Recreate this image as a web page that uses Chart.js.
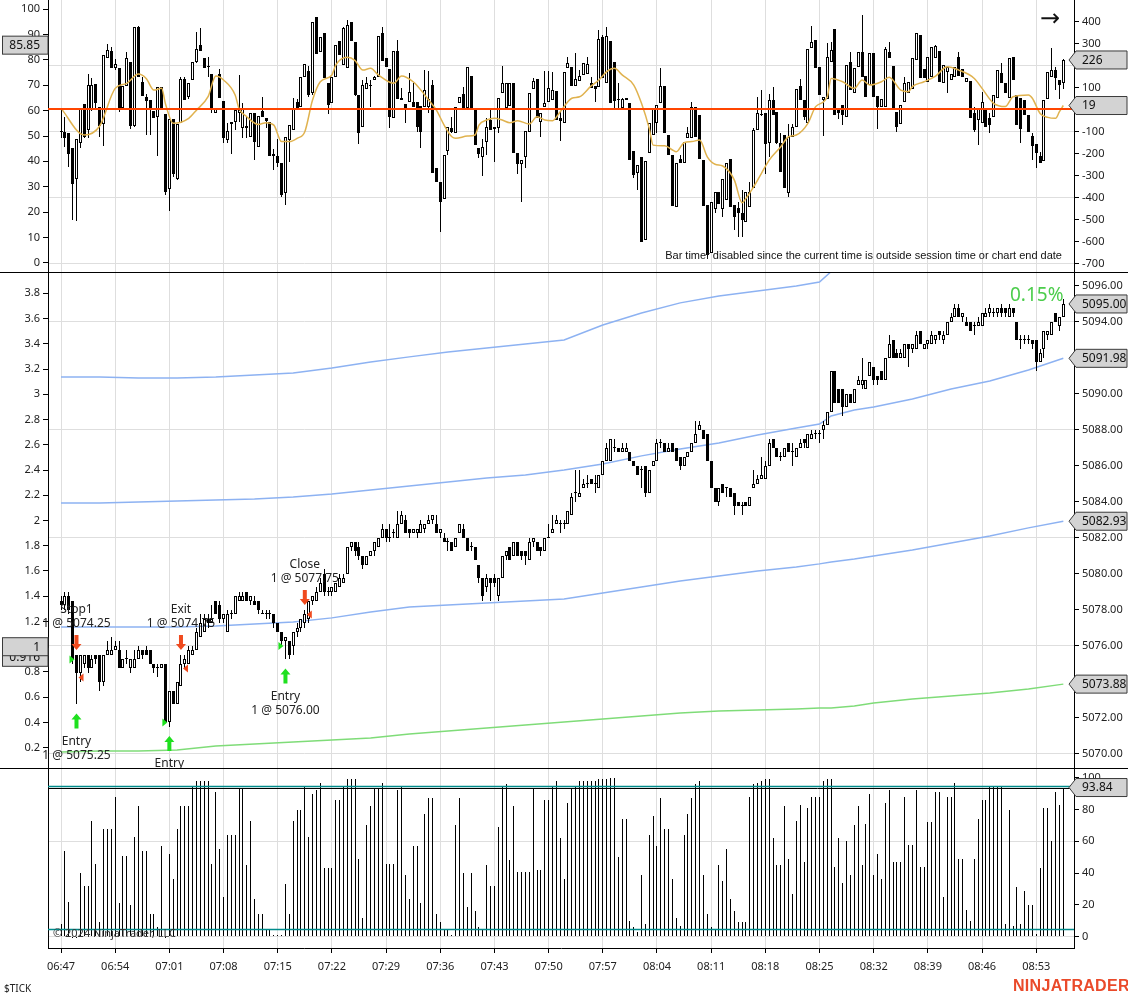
<!DOCTYPE html>
<html>
<head>
<meta charset="utf-8">
<title>$TICK / ES 30s</title>
<script src="https://cdn.jsdelivr.net/npm/chart.js@4.4.1/dist/chart.umd.min.js"></script>
<style>
  html, body { margin: 0; padding: 0; background: #fff; }
  body { width: 1128px; height: 998px; position: relative; overflow: hidden; font-family: "Noto Sans", sans-serif; color: #222; }
  .pane { position: absolute; left: 0; width: 1128px; }
  .sep { position: absolute; left: 0; width: 1128px; height: 1px; background: #000; }
  .txt { position: absolute; white-space: nowrap; }
</style>
</head>
<body>
<div class="pane" style="top:0;height:272px"><canvas id="tickChart"></canvas></div>
<div class="pane" style="top:273px;height:495px"><canvas id="priceChart"></canvas></div>
<div class="pane" style="top:769px;height:229px"><canvas id="volChart"></canvas></div>
<div class="sep" style="top:272px"></div>
<div class="sep" style="top:768px"></div>

<div class="txt" style="right:66px;top:249px;font:11px 'Liberation Sans',Arial,sans-serif;color:#111">Bar timer disabled since the current time is outside session time or chart end date</div>
<div class="txt" style="left:1040px;top:4px;font:24px 'DejaVu Sans',sans-serif;color:#111">&rarr;</div>
<div class="txt" style="left:1010px;top:281px;font:19px 'Noto Sans',sans-serif;color:#4ccd4c">0.15%</div>
<div class="txt" style="left:53px;top:925px;font:11px 'Noto Sans',sans-serif;color:#333">&copy; 2024 NinjaTrader, LLC</div>
<div class="txt" style="left:4px;top:981px;font:10px 'Noto Sans',sans-serif;color:#222">$TICK</div>
<div class="txt" style="left:1013px;top:977px;font:bold 16px 'Liberation Sans',Arial,sans-serif;color:#ea4a2a;letter-spacing:0.3px">NINJATRADER</div>

<script>
// ---- data (30 second bars, 06:47:00 .. 08:56:30) ----
const timeLabels = ['06:47','06:54','07:01','07:08','07:15','07:22','07:29','07:36','07:43','07:50',
  '07:57','08:04','08:11','08:18','08:25','08:32','08:39','08:46','08:53'];

// $TICK candles [open, high, low, close]
const tickBars = [
  [-95,0,-130,-100],[-100,-32,-168,-130],[-108,-105,-259,-203],[-173,-173,-501,-339],[-317,-135,-504,-135],
  [-150,5,-176,5],[26,26,-130,-126],[-92,162,-130,111],[-2,142,-5,112],[117,117,6,29],
  [11,11,-126,-74],[-65,248,-164,248],[233,297,233,271],[267,286,191,191],[191,229,180,206],
  [188,188,-9,-2],[6,108,6,108],[108,264,108,233],[218,218,-89,-74],[-74,374,-80,374],
  [374,380,147,147],[127,150,64,64],[59,70,-115,41],[44,44,-115,6],[-6,-6,-39,-39],
  [-32,102,-211,102],[102,102,3,3],[-20,-20,-388,-373],[-362,-42,-459,-42],[-42,-42,-308,-292],
  [-314,-65,-320,-65],[-62,150,-62,139],[139,150,44,44],[56,120,47,120],[135,215,135,215],
  [215,355,211,274],[294,370,268,268],[236,236,188,188],[198,241,147,195],[162,162,-17,3],
  [-17,3,-17,3],[162,183,52,52],[39,39,-153,-130],[-138,-62,-153,-97],[-65,-58,-201,-58],
  [-58,-2,-92,-2],[-17,158,-55,-2],[-85,29,-130,2],[-74,-29,-130,-85],[-123,-14,-123,-17],
  [-17,-17,-229,-145],[-168,-29,-168,-29],[-5,59,-32,-32],[-36,-36,-85,-50],[-58,-58,-211,-211],
  [-201,-180,-274,-209],[-211,-135,-259,-241],[-244,-244,-398,-388],[-380,-126,-433,-126],[-138,-70,-239,-70],
  [-92,52,-92,2],[33,48,6,6],[11,147,11,147],[147,206,147,206],[177,198,59,67],
  [77,397,67,397],[420,420,251,251],[261,329,261,329],[347,347,142,145],[120,120,-20,21],
  [29,150,29,150],[147,294,147,294],[314,314,248,248],[203,377,203,370],[188,408,188,385],
  [397,397,314,314],[309,309,64,67],[67,67,-158,-105],[-80,135,-80,112],[92,147,92,120],
  [108,135,11,112],[135,155,135,150],[147,335,147,335],[347,374,223,223],[233,233,192,192],
  [183,183,-82,-35],[-39,267,-39,267],[267,317,47,47],[52,97,44,44],[26,26,-62,-2],
  [36,168,36,82],[36,120,14,14],[36,36,-103,-80],[17,17,-176,-100],[14,180,14,89],
  [11,177,-17,47],[112,135,-289,-289],[-267,-267,-327,-327],[-327,-327,-554,-418],[-406,-206,-406,-206],
  [-186,-80,-206,-80],[-85,-35,-108,-100],[-108,11,-108,11],[32,56,32,56],[70,105,-2,-2],
  [6,192,6,192],[153,153,2,2],[2,2,-161,-161],[-176,-176,-221,-201],[-214,-135,-301,-168],
  [-145,-39,-206,-77],[-47,6,-92,-92],[-77,-77,-236,-89],[-85,52,-105,52],[77,198,77,123],
  [6,120,6,120],[17,120,17,120],[120,120,-198,-198],[-198,-198,-292,-247],[-247,-229,-418,-229],
  [-217,-95,-267,-95],[-103,77,-103,77],[92,142,92,130],[139,139,-39,-39],[-55,-17,-123,-17],
  [11,177,11,29],[36,177,36,97],[44,173,44,89],[86,86,-47,-47],[-39,-9,-141,-50],
  [-62,173,-62,173],[191,238,191,214],[195,195,108,108],[108,259,108,138],[132,180,132,153],
  [158,211,158,211],[162,241,162,206],[123,147,97,97],[108,108,36,92],[102,362,102,320],
  [329,339,142,142],[120,374,120,335],[312,312,32,32],[218,218,6,41],[50,123,6,44],
  [6,52,6,47],[44,52,44,52],[29,29,-229,-229],[-186,-186,-309,-297],[-289,-251,-365,-251],
  [-214,-214,-600,-600],[-592,-232,-592,-232],[-198,-62,-198,-62],[-115,6,-115,6],[-59,21,-105,21],
  [29,188,29,108],[108,108,-108,-108],[-115,-115,-206,-206],[-206,-206,-438,-438],[-441,-244,-441,-244],
  [-226,-206,-244,-244],[-241,-145,-241,-145],[-130,-80,-130,-108],[-130,36,-130,14],[11,11,-123,-123],
  [-24,-24,-226,-226],[-229,-229,-438,-438],[-433,-433,-670,-660],[-653,-418,-653,-418],[-453,-373,-471,-373],
  [-373,-373,-430,-430],[-453,-317,-486,-317],[-411,-244,-411,-244],[-226,-226,-441,-441],[-433,-433,-547,-486],
  [-448,-418,-577,-471],[-471,-365,-577,-501],[-509,-373,-509,-373],[-441,-327,-441,-373],[-358,-85,-358,-92],
  [-92,59,-92,-17],[-21,89,-30,-24],[-17,-17,-292,-156],[-153,71,-214,44],[44,102,-24,-24],
  [-9,-9,-158,-153],[-153,-105,-282,-282],[-115,-115,-358,-358],[-380,-65,-395,-123],[-123,-65,-123,-77],
  [-77,92,-77,92],[108,138,44,44],[44,44,-47,-35],[-62,274,-62,274],[279,380,279,309],
  [317,317,188,188],[195,195,67,67],[44,59,-120,59],[47,305,47,241],[218,309,218,271],
  [365,365,-24,-24],[2,2,-44,-17],[21,21,-70,-24],[-32,203,-32,203],[218,264,89,89],
  [77,188,77,188],[195,264,195,264],[264,430,150,150],[153,153,56,56],[112,256,112,256],
  [259,259,59,59],[62,62,-89,11],[11,47,11,47],[14,286,14,274],[264,309,233,233],
  [198,198,2,2],[-9,-9,-100,-80],[-65,21,-65,21],[33,147,33,120],[77,127,77,127],
  [92,233,92,233],[226,347,226,347],[339,339,142,142],[183,183,142,142],[127,238,127,238],
  [150,286,150,286],[233,294,233,289],[267,267,127,127],[123,203,123,203],[173,195,77,195],
  [135,162,135,162],[150,195,150,195],[241,264,153,153],[183,183,147,147],[127,142,127,142],
  [130,130,-39,-39],[-17,14,-100,-92],[-47,6,-161,6],[-62,82,-62,36],[-2,-2,-77,-77],
  [-39,-17,-108,-70],[-32,67,-32,67],[52,180,52,180],[168,214,120,120],[120,120,74,74],
  [52,233,52,233],[241,241,135,135],[67,67,-70,-70],[52,52,-153,-89],[44,44,-24,-24],
  [-24,-24,-100,-100],[-120,-105,-229,-165],[-156,-156,-267,-198],[-211,-191,-244,-244],[-232,44,-232,44],
  [47,173,47,173],[147,279,147,180],[180,195,89,142],[135,135,47,112],[120,229,92,226]
];

// moving average of $TICK, read at selected bars
const smaBar = [0,6,10,14,17,20,22,24,26,27,29,33,35,38,40,42,45,46,48,51,53,55,57,59,61,63,65,67,70,71,
  74,76,78,80,82,86,88,91,93,95,97,99,101,102,105,107,108,110,112,114,116,118,121,123,125,127,129,132,134,137,
  139,141,143,145,148,150,152,153,156,158,159,161,163,165,167,169,171,174,176,177,179,181,183,186,188,190,193,195,198,199,
  202,205,207,209,212,214,217,219,220,223,226,229,232,236,238,241,244,246,250,251,253,255,257,258,259];
const smaVal = [6,-115,-74,97,120,162,142,89,97,26,-62,-39,-2,59,153,135,67,6,-32,-67,-59,-70,-145,-145,-130,-100,44,127,158,203,
  238,223,180,188,158,120,153,127,89,44,-2,-70,-123,-130,-120,-115,-70,-47,-39,-47,-59,-50,-65,-32,-47,-50,-9,52,59,108,
  135,173,188,158,112,29,-85,-161,-164,-183,-191,-150,-145,-138,-214,-248,-256,-320,-423,-403,-350,-289,-229,-168,-123,-115,-62,14,59,142,
  127,97,135,112,127,147,89,82,105,127,153,195,180,142,97,29,14,59,67,52,-17,-35,-39,-9,19];
const tickLevel = 5;
const oscLabels = [85.85];

// ES price candles [open, high, low, close]
const priceBars = [
  [5078.5,5078.75,5078,5078.25],[5078.25,5079,5078,5078.75],[5078.75,5079,5077.75,5078],[5078.5,5078.5,5075,5075.25],[5075.5,5075.5,5072.75,5074.5],
  [5074.5,5075.5,5074,5075.5],[5075,5075.5,5074.75,5075.5],[5075.5,5075.5,5074.5,5074.75],[5074.75,5075.5,5074.75,5075.25],[5075.5,5075.5,5075,5075.25],
  [5075.5,5075.5,5073.5,5074],[5074,5075.5,5073.75,5075.5],[5075.5,5076.25,5075.5,5075.75],[5075.5,5076.5,5075.5,5075.75],[5075.75,5076.25,5075.75,5076],
  [5075.75,5076.25,5074.75,5074.75],[5074.75,5075.25,5074.75,5075.25],[5075.25,5075.75,5075,5075.25],[5074.75,5075.25,5074.5,5075.25],[5074.75,5075.75,5074.75,5075.25],
  [5075.25,5076,5075.25,5075.75],[5075.75,5075.75,5075.25,5075.5],[5075.75,5076,5075.5,5075.5],[5075.75,5075.75,5075,5075],[5075,5075,5074.5,5074.75],
  [5074.75,5075,5074.25,5074.75],[5074.75,5075,5074.75,5075],[5075,5075,5071.75,5071.75],[5071.75,5073.5,5071.5,5073.5],[5073.5,5073.5,5072.75,5072.75],
  [5072.75,5074,5072.75,5074],[5073.75,5075.5,5073.75,5075],[5075,5075.5,5074.75,5075.25],[5075,5076,5075,5075.75],[5075.5,5076,5075.5,5075.75],
  [5075.75,5077,5075.75,5076.75],[5076.5,5077.75,5076.5,5077.25],[5076.75,5077.75,5076.75,5077.5],[5077.5,5077.75,5077,5077.25],[5077.25,5078.25,5077.25,5077.5],
  [5078.5,5078.5,5077.75,5077.75],[5078.25,5078.5,5077.25,5077.5],[5077.5,5077.75,5077.25,5077.75],[5076.75,5078,5076.75,5077.75],[5077.75,5078,5077.5,5077.75],
  [5077.75,5078.75,5077.75,5078.75],[5078.5,5079,5078.5,5078.75],[5078.5,5079,5078.5,5078.75],[5079,5079,5078.5,5078.5],[5078.5,5078.75,5078.25,5078.75],
  [5078.5,5078.75,5078.25,5078.25],[5078.5,5078.5,5077.75,5078],[5077.75,5078,5077.75,5077.75],[5077.75,5078,5077.5,5077.75],[5077.75,5078,5077.5,5077.75],
  [5077.75,5077.75,5077,5077.25],[5077.25,5077.25,5076.75,5076.75],[5076.75,5076.75,5076,5076.25],[5076.25,5076.5,5075.25,5076.5],[5076.25,5076.25,5075.25,5075.5],
  [5076,5076.75,5075.5,5076.75],[5076.75,5077.25,5076.5,5077],[5077,5077.5,5076.75,5077.5],[5077.25,5078,5077,5077.75],[5077.5,5078.5,5077.25,5078.5],
  [5078.5,5078.75,5078.25,5078.75],[5078.5,5079.25,5078.5,5079],[5079,5079.75,5079,5079.5],[5080,5080.25,5078.75,5079],[5079,5079.25,5078.75,5079],
  [5079,5079.25,5078.75,5079.25],[5079,5079.5,5079,5079.5],[5079.25,5080,5079.25,5079.75],[5079.5,5080,5079.5,5079.75],[5080,5081.5,5080,5081.5],
  [5081.5,5081.75,5081.25,5081.75],[5081.75,5081.75,5081,5081.25],[5081.5,5081.75,5080.75,5081],[5081,5081,5080.25,5080.5],[5080.5,5081,5080.5,5081],
  [5081,5081.25,5081,5081.25],[5081.25,5081.75,5081,5081.75],[5081.5,5082,5081.5,5082],[5082,5082.75,5082,5082.5],[5082.5,5082.5,5081.75,5082],
  [5082,5082.75,5081.75,5082],[5082.25,5082.5,5082,5082.25],[5082,5083.5,5082,5082.75],[5082.75,5083.5,5082.75,5083.25],[5083,5083.25,5082.25,5082.25],
  [5082.5,5082.5,5082,5082.25],[5082.25,5082.5,5082.25,5082.5],[5082.25,5082.5,5082,5082.5],[5082.25,5083,5082.25,5082.75],[5082.5,5082.75,5082.25,5082.75],
  [5082.75,5083.25,5082.75,5083],[5083,5083.25,5082.75,5083.25],[5082.75,5083.25,5082.25,5082.25],[5082.25,5082.5,5082,5082.5],[5082,5082.25,5081.75,5081.75],
  [5081.75,5082,5081.25,5081.75],[5081.75,5081.75,5081.25,5081.25],[5081.5,5082,5081.5,5082],[5082.25,5082.75,5082.25,5082.75],[5082.5,5082.75,5082,5082],
  [5082,5082,5081.25,5081.25],[5081.5,5081.75,5081.25,5081.5],[5081.5,5081.5,5080.75,5080.75],[5080.5,5080.5,5079.5,5079.75],[5079.75,5079.75,5078.5,5078.75],
  [5079.25,5080,5079,5079.75],[5079.75,5079.75,5078.5,5079.5],[5079.75,5080,5079.25,5079.5],[5078.75,5079.75,5078.5,5079.75],[5079.75,5081,5079.75,5081],
  [5081,5081.25,5080.75,5081.25],[5081.5,5081.5,5080.75,5080.75],[5081,5081.75,5081,5081.75],[5081.75,5081.75,5081,5081],[5081.25,5081.25,5080.75,5081],
  [5081.25,5081.25,5080.5,5081],[5080.75,5082,5080.75,5081.75],[5081.75,5082,5081.5,5082],[5081.75,5081.75,5081.25,5081.25],[5081.5,5081.5,5081,5081.25],
  [5081.25,5082,5081.25,5082],[5082,5082.75,5082,5082],[5082.25,5083.25,5082.25,5082.5],[5082.75,5083.25,5082.75,5083],[5082.75,5083,5082.25,5082.75],
  [5082.75,5083,5082.5,5082.75],[5082.75,5083.5,5082.75,5083.5],[5083.25,5084.5,5083.25,5084.25],[5084.5,5085.75,5084,5084.5],[5084.25,5085.75,5084.25,5084.5],
  [5084.75,5085.25,5084.75,5085],[5085,5085.5,5084.75,5085],[5085.25,5085.25,5085,5085],[5085,5085.5,5084.5,5085],[5084.75,5085.5,5084.75,5085.5],
  [5085.5,5086.25,5085.5,5086.25],[5086.25,5087.25,5086.25,5087],[5086.25,5087.5,5086.25,5087.5],[5087,5087.5,5086.75,5087],[5087,5087,5086.75,5086.75],
  [5086.75,5087.25,5086.75,5087],[5086.75,5087.25,5086.75,5087],[5086.75,5086.75,5086.25,5086.25],[5086.25,5086.25,5086,5086],[5086,5086,5085.5,5085.5],
  [5085.75,5086,5084.75,5085.75],[5086,5086,5084.25,5084.5],[5084.5,5085.75,5084.5,5085.75],[5086,5086.25,5086,5086.25],[5086.25,5087.5,5086.25,5087.25],
  [5087.25,5087.5,5087,5087.25],[5087.25,5087.25,5086.75,5086.75],[5086.75,5087.25,5086.75,5087],[5087.25,5087.25,5086.75,5086.75],[5087,5087,5086.25,5086.25],
  [5086.5,5086.5,5085.75,5086],[5086,5086.5,5086,5086.5],[5086.5,5086.75,5086.5,5086.75],[5086.75,5087.25,5086.75,5087.25],[5087.25,5088.5,5087.25,5087.75],
  [5088,5088.5,5088,5088.25],[5088,5088,5087.5,5087.5],[5087.75,5087.75,5086.25,5086.25],[5086.25,5086.25,5084.75,5084.75],[5084.75,5084.75,5084,5084],
  [5084,5084.75,5083.75,5084.75],[5085,5085,5084.5,5084.5],[5084.75,5084.75,5084.25,5084.75],[5084.75,5084.75,5084.25,5084.25],[5084.5,5084.5,5083.25,5083.75],
  [5084,5084,5083.75,5083.75],[5083.75,5084,5083.25,5083.75],[5084,5084,5083.75,5083.75],[5083.75,5084.25,5083.75,5084.25],[5084.75,5085.75,5084.75,5085],
  [5085,5085.5,5085,5085.25],[5085.25,5086.5,5085.25,5085.5],[5085.25,5086.25,5085.25,5086],[5086,5087.5,5086,5087.25],[5087.5,5087.5,5087,5087],
  [5087,5087,5086.5,5086.5],[5086.5,5086.75,5086.25,5086.5],[5086.5,5087,5086.5,5087],[5087.25,5087.25,5086.75,5086.75],[5086.75,5087.25,5086,5086.75],
  [5086.5,5087,5086.5,5087],[5087,5087.5,5087,5087.25],[5087.5,5087.5,5087,5087.25],[5087,5087.75,5087,5087.75],[5087.5,5088,5087.5,5087.75],
  [5087.75,5088,5087.5,5087.75],[5087.75,5088,5087.25,5087.75],[5088,5088.5,5087.5,5088.25],[5088.25,5089,5088.25,5089],[5089,5091.25,5089,5091.25],
  [5091.25,5091.25,5089.5,5089.5],[5090.25,5090.25,5089.5,5089.5],[5090.25,5090.25,5088.75,5089.25],[5089.25,5090,5089.25,5090],[5090,5090,5089.5,5089.5],
  [5089.5,5090.25,5089.5,5090.25],[5090.5,5091,5090.5,5090.75],[5090.5,5092,5090.25,5090.75],[5090.25,5090.75,5090.25,5090.75],[5091,5091.75,5091,5091.75],
  [5091.5,5091.5,5090.5,5090.75],[5091,5091,5090.5,5090.75],[5091.25,5091.25,5090.75,5090.75],[5090.75,5092,5090.75,5092],[5092,5093.25,5092,5092.75],
  [5093,5093,5092,5092],[5092.25,5092.5,5092,5092],[5092,5092.5,5092,5092.25],[5092,5092.75,5092,5092.75],[5092.75,5092.75,5091.5,5092.5],
  [5092.5,5092.75,5092.25,5092.75],[5092.5,5093.5,5092.5,5093.25],[5093.5,5093.5,5092.75,5092.75],[5092.5,5092.75,5092.5,5092.75],[5092.75,5093,5092.5,5093],
  [5092.75,5093.5,5092.75,5093.25],[5093,5093.25,5092.75,5093.25],[5093.5,5093.5,5093,5093.25],[5093,5093.5,5092.75,5093.25],[5093.25,5094,5093.25,5094],
  [5094,5094.5,5094,5094.25],[5094.25,5095,5094.25,5094.75],[5094.75,5095,5094.25,5094.25],[5094.25,5094.5,5094,5094.5],[5094,5094.25,5093.75,5093.75],
  [5094,5094,5093.5,5093.5],[5093.75,5094,5093.25,5093.75],[5093.75,5094.25,5093.75,5094],[5093.75,5094.5,5093.75,5094.5],[5094.25,5094.75,5094.25,5094.5],
  [5094.5,5095,5094.25,5094.75],[5094.5,5094.75,5094.25,5094.5],[5094.5,5094.75,5094.25,5094.75],[5094.75,5095,5094.25,5094.5],[5094.75,5094.75,5094.25,5094.5],
  [5094.25,5095,5094.25,5094.75],[5094.75,5094.75,5094.25,5094.5],[5094,5094,5093,5093],[5093,5093.25,5092.5,5093],[5093,5093.25,5092.75,5093],
  [5093,5093.25,5092.75,5093],[5093,5093,5092.5,5092.75],[5093,5093,5091.25,5091.75],[5091.75,5092.5,5091.75,5092.25],[5092.5,5093.5,5092,5093.5],
  [5093.25,5093.5,5093,5093.5],[5093.25,5094,5093.25,5094],[5094.5,5094.5,5094,5094],[5093.75,5094.25,5093.5,5094.25],[5094.25,5095.25,5094.25,5095]
];

// bands on the price panel, read at selected bars
const bandBar = [0,10,20,30,40,50,60,70,80,90,100,110,120,130,140,150,160,170,180,190,196,199,205,210,220,230,240,250,259];
const bandTop = [5090.94,5090.94,5090.89,5090.89,5090.94,5091.06,5091.17,5091.44,5091.78,5092.06,5092.33,5092.56,5092.78,5093.0,5093.83,
  5094.5,5095.06,5095.44,5095.72,5096.0,5096.22,5096.8,5098.5,null,null,null,null,null,null];
const bandUpper = [5083.94,5083.94,5084.0,5084.06,5084.11,5084.17,5084.28,5084.44,5084.67,5084.89,5085.11,5085.33,5085.5,5085.78,5086.11,
  5086.56,5086.94,5087.28,5087.72,5088.11,5088.33,5088.78,5089.11,5089.28,5089.72,5090.28,5090.72,5091.33,5091.98];
const bandMid = [5077.06,5077.06,5077.06,5077.06,5077.11,5077.22,5077.33,5077.56,5077.89,5078.17,5078.28,5078.39,5078.5,5078.61,5078.94,
  5079.28,5079.61,5079.89,5080.17,5080.39,5080.56,5080.67,5080.83,5081.0,5081.33,5081.72,5082.11,5082.56,5082.93];
const bandLow = [5070.11,5070.17,5070.17,5070.22,5070.44,5070.56,5070.67,5070.78,5070.89,5071.11,5071.28,5071.44,5071.61,5071.78,5071.94,
  5072.11,5072.28,5072.39,5072.44,5072.5,5072.56,5072.56,5072.67,5072.83,5073.06,5073.22,5073.39,5073.61,5073.88];
const indLabels = [0.916, 1];

// executions
const tradeBar = [4, 28, 58, 4, 31, 63];
const tradeSide = ['entry', 'entry', 'entry', 'exit', 'exit', 'exit'];
const tradeName = ['Entry', 'Entry', 'Entry', 'Stop1', 'Exit', 'Close'];
const tradePrice = [5075.25, 5071.75, 5076.00, 5074.25, 5074.75, 5077.75];

// lower panel
const volBars = [
  8,54,22,0,0,40,32,32,73,46, 9,68,68,68,88,21,51,51,20,63, 82,54,54,14,14,6,57,0,52,36,
  68,82,82,82,95,98,98,98,98,46, 91,55,25,64,64,64,93,93,45,73, 24,14,14,5,5,1,1,1,33,14,
  73,80,80,95,63,90,92,97,43,43, 43,86,86,94,99,99,99,49,12,70, 82,93,93,97,46,46,46,92,95,39,
  24,57,57,21,77,87,87,14,9,5, 5,1,70,87,40,19,40,16,6,4, 45,32,32,69,95,96,48,82,41,41,
  41,41,93,42,42,86,86,95,98,62,
  36,84,93,95,98,98,98,98,98,99, 99,99,100,100,50,74,74,10,6,3, 39,8,64,76,57,87,68,68,36,12,
  7,64,77,87,96,98,39,14,6,4, 45,35,55,24,16,9,9,9,88,96, 97,98,99,99,62,45,45,82,49,27,
  73,83,47,81,88,88,88,98,99,99, 44,62,34,60,39,70,82,45,71,90, 39,52,36,84,92,47,47,47,88,58,
  58,92,44,44,72,72,91,91,25,88, 88,97,49,49,17,10,49,74,86,86, 95,95,95,95,8,80,7,31,8,29,
  20,20,2,43,81,81,60,91,83,93.84
];
const volLevels = [95, 5];

// axis ticks
const tickAxisTicks = [-700,-600,-500,-400,-300,-200,-100,0,100,200,300,400];
const tickAxisGrid = [-700,-400,-100,200];
const oscTicks = [0,10,20,30,40,50,60,70,80,90,100];
const priceTicks = [5070,5072,5074,5076,5078,5080,5082,5084,5086,5088,5090,5092,5094,5096];
const priceGrid = [5070,5076,5082,5088,5094];
const indTicks = [0.2,0.4,0.6,0.8,1,1.2,1.4,1.6,1.8,2,2.2,2.4,2.6,2.8,3,3.2,3.4,3.6,3.8];
const volTicks = [0,20,40,60,80,100];
const volGrid = [0,60];

// ---- layout ----
Chart.defaults.font.family = '"Noto Sans", sans-serif';
Chart.defaults.font.size = 11;
Chart.defaults.color = '#222';
Chart.defaults.animation = false;

const X_MIN = -3.36, X_MAX = 261.76, BARS_PER_LABEL = 14;
const GRID = '#dedede';
const LEFT_W = 48, RIGHT_W = 54;

// keep thin bars on whole pixels so wicks and bodies stay crisp
const pixelSnap = {
  id: 'pixelSnap',
  beforeDatasetsDraw(chart) {
    chart.data.datasets.forEach((ds, di) => {
      const meta = chart.getDatasetMeta(di);
      if (meta.type !== 'bar') return;
      meta.data.forEach(el => {
        el.x = Math.round(el.x - 0.5) + 0.5;
        let y = Math.round(el.y), base = Math.round(el.base);
        if (y === base) base = y + 1;
        el.y = y; el.base = base;
      });
    });
  }
};

function xAxis(showLabels) {
  return {
    type: 'linear', min: X_MIN, max: X_MAX, offset: false,
    afterBuildTicks: s => { s.ticks = timeLabels.map((t, k) => ({ value: k * BARS_PER_LABEL })); },
    ticks: { display: showLabels, autoSkip: false, maxRotation: 0, padding: 7, callback: (v, k) => timeLabels[k] },
    grid: { offset: false, color: GRID, drawTicks: showLabels, tickLength: 5, tickColor: '#000' },
    border: { display: showLabels, color: '#000' },
    afterFit: s => { s.height = showLabels ? 50 : 0; s.paddingLeft = 0; s.paddingRight = 0; }
  };
}

function yAxis(pos, min, max, tickValues, fmt, gridValues) {
  return {
    type: 'linear', position: pos, min: min, max: max,
    afterBuildTicks: s => { s.ticks = tickValues.map(v => ({ value: v })); },
    ticks: { display: tickValues.length > 0, padding: 3, callback: fmt },
    grid: {
      drawOnChartArea: !!gridValues, drawTicks: tickValues.length > 0, tickLength: 5, tickColor: '#000',
      color: ctx => (gridValues && ctx.tick && gridValues.includes(ctx.tick.value)) ? GRID : 'rgba(0,0,0,0)'
    },
    border: { display: true, color: '#000' },
    afterFit: s => { s.width = pos === 'left' ? LEFT_W : RIGHT_W; s.paddingTop = 0; s.paddingBottom = 0; }
  };
}

function candleSets(bars, axisId) {
  return [
    { type: 'bar', yAxisID: axisId, order: 2, data: bars.map((b, i) => ({ x: i, y: [b[2], b[1]] })),
      backgroundColor: '#000', barThickness: 1, grouped: false, inflateAmount: 0, minBarLength: 1 },
    { type: 'bar', yAxisID: axisId, order: 1, data: bars.map((b, i) => ({ x: i, y: [b[0], b[3]] })),
      backgroundColor: bars.map(b => b[3] >= b[0] ? '#fff' : '#000'), borderColor: '#000', borderWidth: 1,
      borderSkipped: false, barThickness: 3, grouped: false, inflateAmount: 0, minBarLength: 1 }
  ];
}

function rightTag(ctx, a, y, text) {
  const h = 18, tip = a.right - 5, x1 = a.right + 2, x2 = 1127;
  ctx.beginPath();
  ctx.moveTo(tip, y); ctx.lineTo(x1, y - h / 2); ctx.lineTo(x2, y - h / 2);
  ctx.lineTo(x2, y + h / 2); ctx.lineTo(x1, y + h / 2); ctx.closePath();
  ctx.fillStyle = '#d3d3d3'; ctx.fill();
  ctx.strokeStyle = '#3a3a3a'; ctx.lineWidth = 1; ctx.stroke();
  ctx.fillStyle = '#111'; ctx.font = '12px "Noto Sans", sans-serif';
  ctx.textAlign = 'left'; ctx.textBaseline = 'middle';
  ctx.fillText(text, a.right + 8, y + 0.5);
}

function leftTag(ctx, a, y, text) {
  const h = 18;
  ctx.fillStyle = '#d3d3d3';
  ctx.fillRect(2.5, y - h / 2, a.left - 2.5, h);
  ctx.strokeStyle = '#3a3a3a'; ctx.lineWidth = 1;
  ctx.strokeRect(2.5, y - h / 2, a.left - 2.5, h);
  ctx.fillStyle = '#111'; ctx.font = '12px "Noto Sans", sans-serif';
  ctx.textAlign = 'right'; ctx.textBaseline = 'middle';
  ctx.fillText(text, a.left - 8, y + 0.5);
}

function hLine(ctx, a, y, color, w) {
  y = w % 2 === 0 ? Math.round(y) : Math.round(y) + 0.5;
  ctx.strokeStyle = color; ctx.lineWidth = w;
  ctx.beginPath(); ctx.moveTo(a.left, y); ctx.lineTo(a.right, y); ctx.stroke();
}

// ---- top panel: $TICK ----
const tickOverlay = {
  id: 'tickOverlay',
  afterDatasetsDraw(chart) {
    const { ctx, chartArea: a, scales } = chart;
    ctx.save();
    hLine(ctx, a, scales.yT.getPixelForValue(tickLevel), '#ff4500', 2);
    ctx.restore();
  },
  afterDraw(chart) {
    const { ctx, chartArea: a, scales } = chart;
    ctx.save();
    oscLabels.forEach(v => leftTag(ctx, a, scales.yL.getPixelForValue(v), v.toFixed(2)));
    const lastTick = tickBars[tickBars.length - 1][3], lastSma = smaVal[smaVal.length - 1];
    rightTag(ctx, a, scales.yT.getPixelForValue(lastTick), String(lastTick));
    rightTag(ctx, a, scales.yT.getPixelForValue(lastSma), String(lastSma));
    ctx.restore();
  }
};

new Chart(document.getElementById('tickChart'), {
  type: 'bar',
  data: {
    datasets: [
      ...candleSets(tickBars, 'yT'),
      { type: 'line', yAxisID: 'yT', order: 0, data: smaBar.map((b, k) => ({ x: b, y: smaVal[k] })),
        borderColor: '#e0b24e', borderWidth: 1.5, pointRadius: 0, cubicInterpolationMode: 'monotone' }
    ]
  },
  options: {
    responsive: true, maintainAspectRatio: false, events: [],
    layout: { padding: 0 },
    plugins: { legend: { display: false }, tooltip: { enabled: false } },
    scales: {
      x: xAxis(false),
      yL: yAxis('left', -3.67, 103.67, oscTicks, v => String(v), null),
      yT: yAxis('right', -737.7, 498.6, tickAxisTicks, v => String(v), tickAxisGrid)
    }
  },
  plugins: [pixelSnap, tickOverlay]
});

// ---- middle panel: price ----
function arrow(ctx, x, tip, dir) {
  // dir = 1 points up, -1 points down
  ctx.beginPath();
  ctx.moveTo(x, tip);
  ctx.lineTo(x + 5, tip + dir * 6);
  ctx.lineTo(x + 2, tip + dir * 6);
  ctx.lineTo(x + 2, tip + dir * 15);
  ctx.lineTo(x - 2, tip + dir * 15);
  ctx.lineTo(x - 2, tip + dir * 6);
  ctx.lineTo(x - 5, tip + dir * 6);
  ctx.closePath();
  ctx.fill();
}

const priceOverlay = {
  id: 'priceOverlay',
  afterDatasetsDraw(chart) {
    const { ctx, chartArea: a, scales: { x, yP } } = chart;
    ctx.save();
    ctx.beginPath(); ctx.rect(0, a.top, chart.width, a.height); ctx.clip();
    ctx.font = '12px "Noto Sans", sans-serif';
    ctx.textAlign = 'center'; ctx.textBaseline = 'middle';
    tradeBar.forEach((b, k) => {
      const px = x.getPixelForValue(b);
      const py = yP.getPixelForValue(tradePrice[k]);
      const bar = priceBars[b];
      const isEntry = tradeSide[k] === 'entry';
      ctx.fillStyle = isEntry ? '#1fe01f' : '#f04a1e';
      ctx.beginPath();
      if (isEntry) { ctx.moveTo(px - 7, py - 4); ctx.lineTo(px - 2, py); ctx.lineTo(px - 7, py + 4); }
      else { ctx.moveTo(px + 7, py - 4); ctx.lineTo(px + 2, py); ctx.lineTo(px + 7, py + 4); }
      ctx.closePath(); ctx.fill();
      const label = '1 @ ' + tradePrice[k].toFixed(2);
      if (isEntry) {
        const tip = yP.getPixelForValue(bar[2]) + 9;
        arrow(ctx, px, tip, 1);
        ctx.fillStyle = '#222';
        ctx.fillText(tradeName[k], px, tip + 28);
        ctx.fillText(label, px, tip + 42);
      } else {
        const tip = yP.getPixelForValue(bar[1]) - 5;
        arrow(ctx, px, tip, -1);
        ctx.fillStyle = '#222';
        ctx.fillText(tradeName[k], px, tip - 40);
        ctx.fillText(label, px, tip - 26);
      }
    });
    ctx.restore();
  },
  afterDraw(chart) {
    const { ctx, chartArea: a, scales: { yP, yI } } = chart;
    ctx.save();
    indLabels.forEach(v => leftTag(ctx, a, yI.getPixelForValue(v), String(v)));
    const last = priceBars[priceBars.length - 1][3];
    [last, bandUpper[bandUpper.length - 1], bandMid[bandMid.length - 1], bandLow[bandLow.length - 1]]
      .forEach(v => rightTag(ctx, a, yP.getPixelForValue(v), v.toFixed(2)));
    ctx.restore();
  }
};

function bandSet(values, color) {
  return { type: 'line', yAxisID: 'yP', order: 3, data: bandBar.map((b, k) => ({ x: b, y: values[k] })),
    borderColor: color, borderWidth: 1.5, pointRadius: 0, spanGaps: false, tension: 0 };
}

new Chart(document.getElementById('priceChart'), {
  type: 'bar',
  data: {
    datasets: [
      ...candleSets(priceBars, 'yP'),
      bandSet(bandTop, '#8db2f2'),
      bandSet(bandUpper, '#8db2f2'),
      bandSet(bandMid, '#8db2f2'),
      bandSet(bandLow, '#7fdc78')
    ]
  },
  options: {
    responsive: true, maintainAspectRatio: false, events: [],
    layout: { padding: 0 },
    plugins: { legend: { display: false }, tooltip: { enabled: false } },
    scales: {
      x: xAxis(false),
      yI: yAxis('left', 0.039, 3.961, indTicks, v => String(+v.toFixed(1)), null),
      yP: yAxis('right', 5069.22, 5096.72, priceTicks, v => v.toFixed(2), priceGrid)
    }
  },
  plugins: [pixelSnap, priceOverlay]
});

// ---- bottom panel ----
const volOverlay = {
  id: 'volOverlay',
  afterDatasetsDraw(chart) {
    const { ctx, chartArea: a, scales: { yV } } = chart;
    ctx.save();
    hLine(ctx, a, yV.getPixelForValue(volBars[volBars.length - 1]), '#000', 1);
    volLevels.forEach(v => hLine(ctx, a, yV.getPixelForValue(v), '#008b8b', 1.5));
    ctx.restore();
  },
  afterDraw(chart) {
    const { ctx, chartArea: a, scales: { yV } } = chart;
    ctx.save();
    const v = volBars[volBars.length - 1];
    rightTag(ctx, a, yV.getPixelForValue(v), v.toFixed(2));
    ctx.restore();
  }
};

new Chart(document.getElementById('volChart'), {
  type: 'bar',
  data: {
    datasets: [
      { type: 'bar', yAxisID: 'yV', data: volBars.map((v, i) => ({ x: i, y: v })),
        backgroundColor: '#000', barThickness: 1, grouped: false, inflateAmount: 0 }
    ]
  },
  options: {
    responsive: true, maintainAspectRatio: false, events: [],
    layout: { padding: 0 },
    plugins: { legend: { display: false }, tooltip: { enabled: false } },
    scales: {
      x: xAxis(true),
      yB: yAxis('left', 0, 1, [], v => '', null),
      yV: yAxis('right', -7.1, 105.5, volTicks, v => String(v), volGrid)
    }
  },
  plugins: [pixelSnap, volOverlay]
});
</script>
</body>
</html>
